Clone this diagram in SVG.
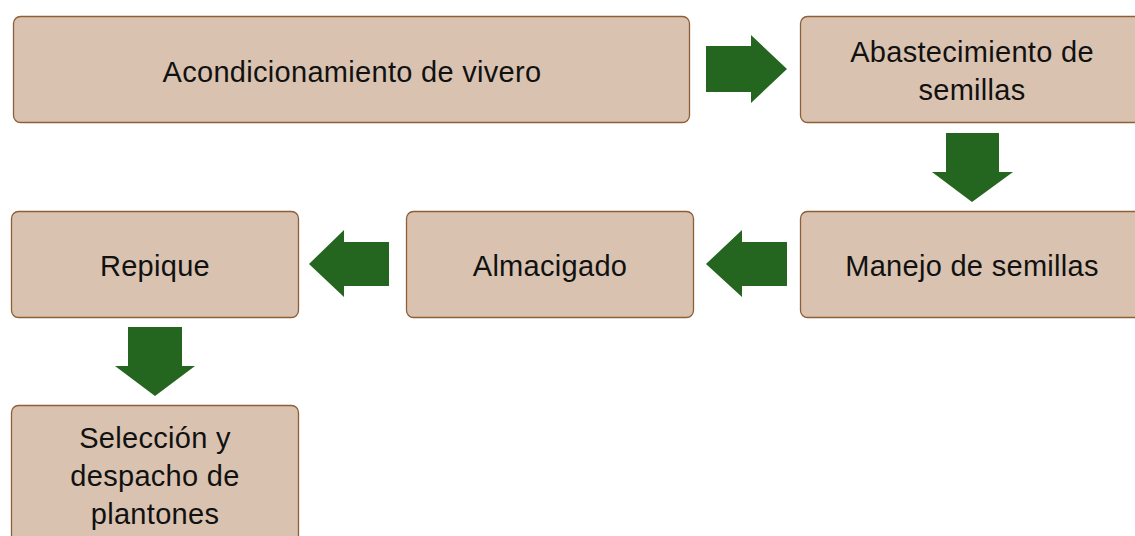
<svg xmlns="http://www.w3.org/2000/svg" width="1135" height="536" viewBox="0 0 1135 536">
<style>
.box{fill:#D9C3B0;stroke:#8E5F36;stroke-width:1.3}
.t{font-family:"Liberation Sans",Arial,sans-serif;font-size:29px;fill:#111;text-anchor:middle;letter-spacing:0.3px}
.arr{fill:#246620}
</style>
<rect width="1135" height="536" fill="#fff"/>
<g id="n1"><rect class="box" x="13.5" y="16.5" width="676" height="106" rx="7"/><text class="t" x="352" y="82">Acondicionamiento de vivero</text></g>
<g id="n2"><rect class="box" x="800.5" y="16.5" width="344" height="106" rx="7"/><text class="t" x="972" y="62">Abastecimiento de</text><text class="t" x="972" y="100">semillas</text></g>
<g id="n3"><rect class="box" x="800.5" y="211.5" width="344" height="106" rx="7"/><text class="t" x="972" y="276">Manejo de semillas</text></g>
<g id="n4"><rect class="box" x="406.5" y="211.5" width="287" height="106" rx="7"/><text class="t" x="550" y="276">Almacigado</text></g>
<g id="n5"><rect class="box" x="11.5" y="211.5" width="287" height="106" rx="7"/><text class="t" x="155" y="276">Repique</text></g>
<g id="n6"><rect class="box" x="11.5" y="405.5" width="287" height="150" rx="7"/><text class="t" x="155" y="448">Selección y</text><text class="t" x="155" y="486">despacho de</text><text class="t" x="155" y="524">plantones</text></g>
<g id="connectors">
<polygon class="arr" points="706,46 751,46 751,35 787,69 751,103 751,92 706,92"/>
<polygon class="arr" points="946,133 999,133 999,172 1013,172 972,202 932,172 946,172"/>
<polygon class="arr" points="787,242 742,242 742,230 706,264 742,297 742,286 787,286"/>
<polygon class="arr" points="389,242 344,242 344,230 309,264 344,297 344,286 389,286"/>
<polygon class="arr" points="128,327 182,327 182,366 195,366 155,396 115,366 128,366"/>
</g>
</svg>
